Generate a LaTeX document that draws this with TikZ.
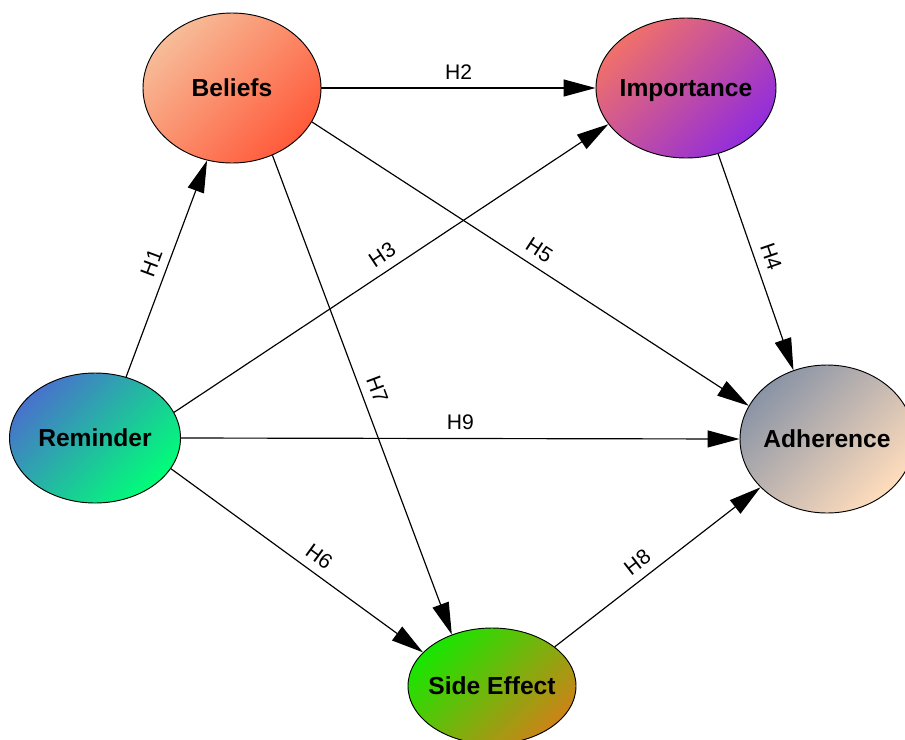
\documentclass[tikz,border=0pt]{standalone}
\usepackage{fontspec}
\setmainfont{Liberation Sans}
\usetikzlibrary{arrows.meta,shapes.geometric}

\definecolor{beliefsTop}{HTML}{F7BC98}
\definecolor{beliefsBot}{HTML}{FF5A3A}
\definecolor{importTop}{HTML}{F0706A}
\definecolor{importBot}{HTML}{922CDC}
\definecolor{remindTop}{HTML}{4872CC}
\definecolor{remindBot}{HTML}{00FF78}
\definecolor{adherTop}{HTML}{8A94A6}
\definecolor{adherBot}{HTML}{FFDDBC}
\definecolor{sideTop}{HTML}{18E600}
\definecolor{sideBot}{HTML}{CC8418}

\begin{document}
\begin{tikzpicture}[x=0.3mm,y=-0.3mm,>={Triangle[length=9.6mm,width=5.1mm]},line width=1pt,
  construct/.style 2 args={ellipse,draw,line width=0.8pt,inner ysep=0pt,inner xsep=-4mm,
    text depth=0pt,top color=#1,bottom color=#2,shading angle=45,
    font=\fontsize{21}{25}\selectfont\bfseries},
  hyp/.style={midway,sloped,above=1.8mm,inner sep=2pt,font=\fontsize{18}{20}\selectfont}]
  \useasboundingbox (0,0) rectangle (905,739);
  % constructs
  \node[construct={beliefsTop}{beliefsBot},minimum width=53.4mm,minimum height=45mm] (beliefs) at (232,88) {Beliefs};
  \node[construct={importTop}{importBot},minimum width=54mm,minimum height=42mm] (importance) at (686,88) {Importance};
  \node[construct={remindTop}{remindBot},minimum width=51.3mm,minimum height=39mm] (reminder) at (95,438) {Reminder};
  \node[construct={adherTop}{adherBot},minimum width=52.2mm,minimum height=44.4mm] (adherence) at (827,439) {Adherence};
  \node[construct={sideTop}{sideBot},minimum width=50.4mm,minimum height=34.8mm] (side) at (492,686) {Side Effect};
  % hypotheses
  \draw[->] (reminder.63) -- (beliefs.251) node[hyp] {H1};
  \draw[->] (beliefs.0) -- (importance.180) node[hyp] {H2};
  \draw[->] (reminder.18) -- (importance.205) node[hyp] {H3};
  \draw[->] (importance.296) -- (adherence.116) node[hyp] {H4};
  \draw[->] (beliefs.337) -- (adherence.157) node[hyp] {H5};
  \draw[->] (reminder.338) -- (side.154) node[hyp,pos=0.55] {H6};
  \draw[->] (beliefs.301) -- (side.128) node[hyp] {H7};
  \draw[->] (side.32) -- (adherence.216) node[hyp,pos=0.45] {H8};
  \draw[->] (reminder.0) -- (adherence.180) node[hyp] {H9};
\end{tikzpicture}
\end{document}
